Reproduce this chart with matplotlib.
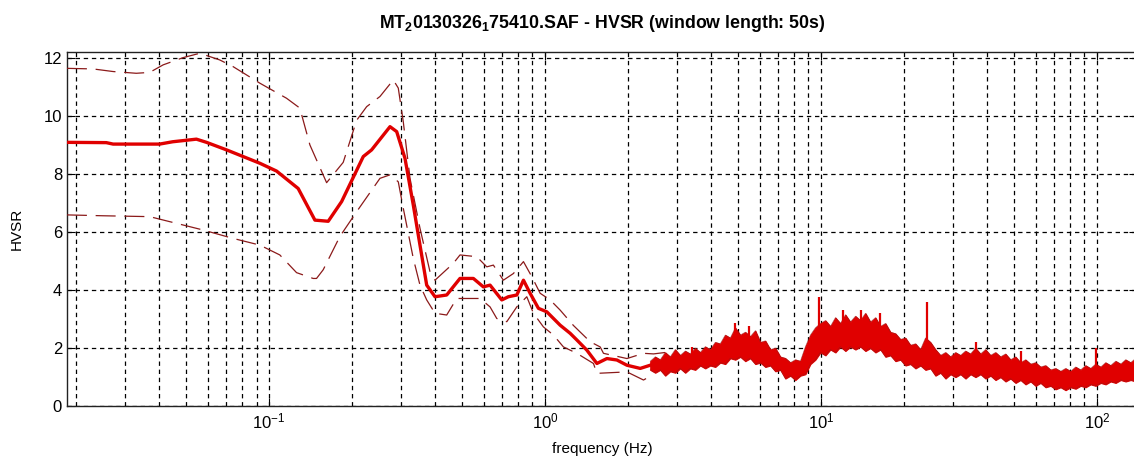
import matplotlib
matplotlib.use("Agg")
import matplotlib.pyplot as plt
from matplotlib.ticker import LogLocator, NullFormatter

plt.rcParams['font.family'] = ['Liberation Sans', 'DejaVu Sans']
plt.rcParams['mathtext.default'] = 'regular'

# average H/V curve (smooth low-frequency part)
freq_mean = [0.0185, 0.0257, 0.0272, 0.0401, 0.0447, 0.0545, 0.0593, 0.0701, 0.0925,
             0.1064, 0.1274, 0.1465, 0.1637, 0.1831, 0.2193, 0.2351, 0.2741, 0.2898,
             0.3106, 0.3329, 0.3520, 0.3723, 0.3990, 0.4399, 0.4915, 0.5495, 0.5973,
             0.6316, 0.6965, 0.7359, 0.7896, 0.8346, 0.8822, 0.9457, 1.0143, 1.1334,
             1.2321, 1.3031, 1.4164, 1.5399, 1.6741, 1.8199, 1.9787, 2.2110, 2.4036]
hvsr_mean = [9.09, 9.08, 9.03, 9.03, 9.11, 9.20, 9.09, 8.83, 8.37,
             8.10, 7.50, 6.41, 6.37, 7.05, 8.60, 8.83, 9.63, 9.46,
             8.54, 6.93, 5.55, 4.17, 3.77, 3.83, 4.40, 4.40, 4.11,
             4.17, 3.66, 3.77, 3.83, 4.34, 3.89, 3.37, 3.25, 2.79,
             2.51, 2.28, 1.93, 1.47, 1.64, 1.59, 1.41, 1.30, 1.41]

# mean + std
freq_up = [0.0185, 0.0230, 0.0272, 0.0330, 0.0369, 0.0413, 0.0488, 0.0561, 0.0662,
           0.0740, 0.0925, 0.1156, 0.1292, 0.1405, 0.1615, 0.1855, 0.2075, 0.2256,
           0.2521, 0.2817, 0.2937, 0.3062, 0.3239, 0.3520, 0.3827, 0.3990, 0.4649,
           0.4915, 0.5652, 0.6145, 0.6493, 0.7059, 0.7674, 0.8346, 0.8949, 0.9592,
           1.0426, 1.1334, 1.2664, 1.4560, 1.5830, 1.6273, 1.9787, 2.2726, 2.4710, 2.8401]
hvsr_up = [11.64, 11.62, 11.53, 11.47, 11.50, 11.76, 12.01, 12.16, 11.93,
           11.70, 11.13, 10.61, 10.27, 9.00, 7.70, 8.40, 9.85, 10.32,
           10.67, 11.24, 10.96, 9.80, 7.85, 6.13, 4.63, 4.34, 4.92,
           5.21, 5.15, 4.80, 4.86, 4.34, 4.57, 4.98, 4.46, 3.89,
           3.66, 3.31, 2.78, 2.22, 2.04, 1.82, 1.64, 1.82, 1.80, 1.87]

# mean - std
freq_lo = [0.0185, 0.0250, 0.0369, 0.0461, 0.0576, 0.0740, 0.0925, 0.1093, 0.1257,
           0.1444, 0.1485, 0.1570, 0.1805, 0.2075, 0.2521, 0.2741, 0.2937, 0.3062,
           0.3329, 0.3520, 0.3723, 0.3990, 0.4399, 0.4783, 0.5809, 0.6316, 0.6680,
           0.7262, 0.7896, 0.8582, 0.9070, 0.9859, 1.0717, 1.1652, 1.3031, 1.4968,
           1.5399, 1.9787, 2.2726, 2.4710]
hvsr_lo = [6.59, 6.56, 6.53, 6.30, 6.07, 5.78, 5.55, 5.21, 4.60,
           4.40, 4.40, 4.70, 5.85, 6.70, 7.85, 7.97, 7.73, 6.82,
           5.09, 4.17, 3.66, 3.20, 3.14, 3.71, 3.71, 3.42, 3.02,
           2.91, 3.42, 3.77, 3.20, 2.73, 2.45, 2.04, 1.82, 1.47,
           1.13, 1.18, 0.90, 1.10]

# high-frequency part: spread of the noisy curves
freq_hf = [2.404, 2.506, 2.613, 2.724, 2.840, 2.961, 3.087, 3.219, 3.356, 3.499,
           3.648, 3.804, 3.966, 4.135, 4.311, 4.495, 4.688, 4.888, 5.097, 5.314,
           5.541, 5.777, 6.023, 6.281, 6.549, 6.828, 7.119, 7.422, 7.739, 8.069,
           8.413, 8.773, 9.147, 9.536, 9.943, 10.37, 10.81, 11.27, 11.75, 12.25,
           12.77, 13.32, 13.88, 14.48, 15.09, 15.74, 16.41, 17.11, 17.84, 18.60,
           19.39, 20.22, 21.08, 21.98, 22.92, 23.89, 24.91, 25.97, 27.08, 28.24,
           29.44, 30.69, 32.00, 33.37, 34.79, 36.27, 37.82, 39.43, 41.11, 42.87,
           44.69, 46.60, 48.59, 50.66, 52.82, 55.07, 57.42, 59.87, 62.42, 65.08,
           67.86, 70.75, 73.77, 76.91, 80.19, 83.61, 87.18, 90.90, 94.77, 98.81,
           103.1, 107.4, 112.0, 116.8, 121.8, 126.9, 132.4, 138.0, 143.9]
hf_low = [1.25, 1.15, 1.25, 1.05, 1.20, 1.15, 1.30, 1.15, 1.30, 1.25,
          1.40, 1.30, 1.40, 1.35, 1.50, 1.45, 1.65, 1.60, 1.70, 1.55,
          1.65, 1.45, 1.50, 1.35, 1.40, 1.20, 1.25, 0.95, 1.05, 0.90,
          1.05, 1.10, 1.45, 1.60, 1.85, 1.75, 1.95, 1.85, 2.05, 1.90,
          2.05, 1.95, 2.05, 1.90, 2.00, 1.85, 1.95, 1.70, 1.75, 1.55,
          1.60, 1.40, 1.45, 1.30, 1.40, 1.25, 1.30, 1.05, 1.15, 0.95,
          1.10, 1.00, 1.10, 0.95, 1.10, 1.00, 1.10, 0.95, 1.05, 0.90,
          1.00, 0.85, 0.95, 0.80, 0.90, 0.75, 0.85, 0.70, 0.80, 0.65,
          0.70, 0.58, 0.65, 0.55, 0.65, 0.60, 0.70, 0.65, 0.75, 0.70,
          0.80, 0.75, 0.85, 0.80, 0.90, 0.85, 0.90, 0.85, 0.95]
hf_high = [1.55, 1.70, 1.60, 1.85, 1.70, 1.95, 1.75, 1.90, 1.80, 2.00,
           1.85, 2.05, 1.95, 2.20, 2.15, 2.45, 2.35, 2.70, 2.45, 2.55,
           2.40, 2.60, 2.20, 2.25, 1.95, 2.00, 1.70, 1.65, 1.50, 1.60,
           1.55, 2.05, 2.45, 2.70, 2.85, 2.95, 2.75, 3.05, 2.85, 3.15,
           2.90, 3.10, 2.95, 3.20, 2.90, 3.05, 2.75, 2.85, 2.55, 2.50,
           2.30, 2.35, 2.10, 2.15, 1.95, 2.35, 2.20, 1.95, 1.75, 1.85,
           1.70, 1.85, 1.75, 1.90, 1.80, 2.00, 1.80, 1.95, 1.75, 1.85,
           1.70, 1.80, 1.60, 1.70, 1.50, 1.60, 1.45, 1.50, 1.35, 1.40,
           1.25, 1.30, 1.20, 1.30, 1.20, 1.35, 1.25, 1.40, 1.30, 1.45,
           1.35, 1.50, 1.40, 1.55, 1.45, 1.60, 1.50, 1.65, 1.55]

# isolated narrow peaks
spike_freq = [3.40, 4.89, 5.50, 9.86, 12.0, 13.9, 16.4, 24.1, 36.3, 52.8, 98.8]
spike_base = [1.6, 2.2, 2.2, 2.5, 2.6, 2.6, 2.5, 1.8, 1.6, 1.3, 1.1]
spike_top = [2.05, 2.85, 2.75, 3.75, 3.30, 3.30, 3.20, 3.60, 2.20, 1.90, 2.00]

fig = plt.figure(figsize=(11.34, 4.61), dpi=100)
ax = fig.add_axes([0.059, 0.119, 0.944, 0.768])

red = '#e00000'
dark = '#8b1a1a'

ax.fill_between(freq_hf, hf_low, hf_high, color=red, lw=0.8, zorder=3)
ax.plot(freq_hf, hf_high, color=dark, lw=0.5, alpha=0.6, zorder=3)
ax.plot(freq_hf, hf_low, color=dark, lw=0.5, alpha=0.6, zorder=3)
ax.vlines(spike_freq, spike_base, spike_top, color=red, lw=1.6, zorder=3)
ax.plot(freq_mean, hvsr_mean, color=red, lw=2.4, zorder=4)
ax.plot(freq_up, hvsr_up, color=dark, lw=0.9, dashes=(16, 7), zorder=3)
ax.plot(freq_lo, hvsr_lo, color=dark, lw=0.9, dashes=(16, 7), zorder=3)

ax.set_xscale('log')
ax.set_xlim(0.0185, 140)
ax.set_ylim(0, 12.2)
ax.set_yticks([0, 2, 4, 6, 8, 10, 12])
ax.xaxis.set_major_locator(LogLocator(base=10, numticks=10))
ax.xaxis.set_minor_locator(LogLocator(base=10, subs=range(2, 10), numticks=20))
ax.xaxis.set_minor_formatter(NullFormatter())

ax.set_axisbelow(True)
ax.grid(True, which='major', color='black', lw=0.9, linestyle=(0, (3.5, 3)))
ax.grid(True, which='minor', axis='x', color='black', lw=0.9, linestyle=(0, (3.5, 3)))
ax.tick_params(which='both', direction='in', top=True, right=True, labelsize=12)
ax.tick_params(which='major', length=6)
ax.tick_params(which='minor', length=3)
for s in ax.spines.values():
    s.set_linewidth(1.0)
    s.set_color('#222222')

ax.set_title(r'MT$_2$0130326$_1$75410.SAF - HVSR (window length: 50s)',
             fontsize=12.8, fontweight='bold', pad=17)
ax.set_xlabel('frequency (Hz)', fontsize=11, labelpad=8)
ax.set_ylabel('HVSR', fontsize=11, labelpad=14)

fig.savefig('out.png', dpi=100)
